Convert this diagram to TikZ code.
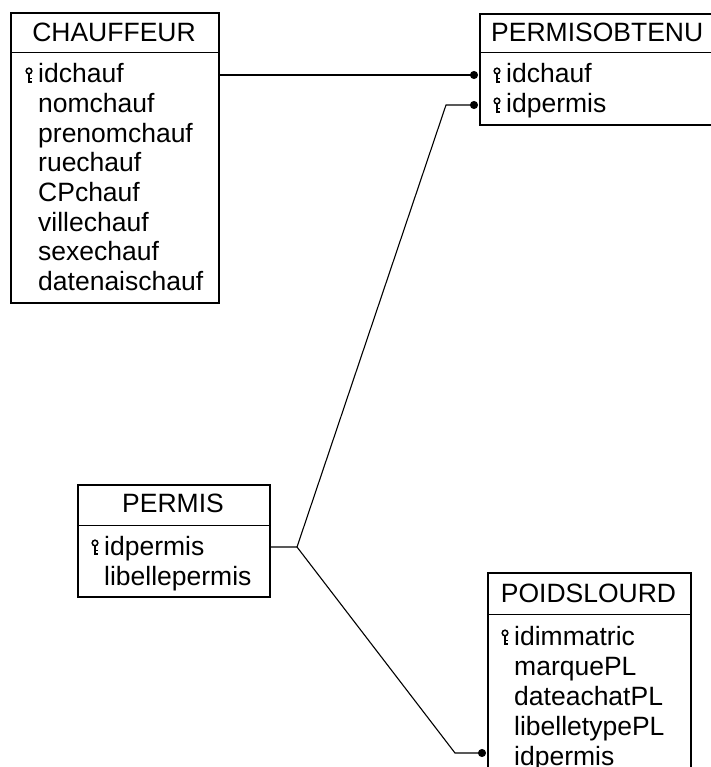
\documentclass[tikz,border=0pt]{standalone}
\usepackage{fontspec}
\setmainfont{Liberation Sans}
\usetikzlibrary{arrows.meta}
\tikzset{
  tbox/.style={draw=black, line width=1.8pt, inner sep=0pt, anchor=north west},
  sep/.style={draw=black, line width=1pt},
  ttl/.style={anchor=base, inner sep=0pt, font=\fontsize{26.5}{29}\selectfont},
  fld/.style={anchor=base west, inner sep=0pt, font=\fontsize{26.5}{29}\selectfont},
  conn/.style={draw=black, line width=1.1pt},
  dotend/.style={-{Circle[length=8pt,width=8pt]}},
  keyicon/.pic={
    \draw[line width=1.5pt] (0,-12) circle (2.8);
    \draw[line width=1.7pt] (0,-9.2) -- (0,-1.2) -- (3.2,-1.2);
    \draw[line width=1.4pt] (0,-4.6) -- (2.8,-4.6);
  }
}
\begin{document}
\begin{tikzpicture}[x=1pt,y=-1pt]
\useasboundingbox (0,0) rectangle (710,767);
\fill[white] (0,0) rectangle (710,767);

% CHAUFFEUR
\node[tbox, minimum width=208pt, minimum height=290pt] (chauffeur) at (10,12) {};
\draw[sep] (10,53) -- (218,53);
\node[ttl] (chT) at (114,42) {CHAUFFEUR};
\pic at (29,83) {keyicon};
\node[fld] (ch1) at (38,83) {idchauf};
\node[fld] (ch2) at (38,112.6) {nomchauf};
\node[fld] (ch3) at (38,142.2) {prenomchauf};
\node[fld] (ch4) at (38,171.8) {ruechauf};
\node[fld] (ch5) at (38,201.4) {CPchauf};
\node[fld] (ch6) at (38,231) {villechauf};
\node[fld] (ch7) at (38,260.6) {sexechauf};
\node[fld] (ch8) at (38,290.2) {datenaischauf};

% PERMISOBTENU
\node[tbox, minimum width=240pt, minimum height=111pt] (pob) at (479,13) {};
\draw[sep] (479,53) -- (719,53);
\node[ttl, anchor=base west] (pobT) at (491,42) {PERMISOBTENU};
\pic at (497,83) {keyicon};
\pic at (497,113) {keyicon};
\node[fld] (pob1) at (506,83) {idchauf};
\node[fld] (pob2) at (506,113) {idpermis};

% PERMIS
\node[tbox, minimum width=192pt, minimum height=112pt] (permis) at (77,484) {};
\draw[sep] (77,525) -- (269,525);
\node[ttl] (peT) at (173,512) {PERMIS};
\pic at (95,555) {keyicon};
\node[fld] (pe1) at (104,555) {idpermis};
\node[fld] (pe2) at (104,585) {libellepermis};

% POIDSLOURD
\node[tbox, minimum width=203pt, minimum height=210pt] (pl) at (487,572) {};
\draw[sep] (487,614) -- (690,614);
\node[ttl] (plT) at (588.5,602) {POIDSLOURD};
\pic at (505,645) {keyicon};
\node[fld] (pl1) at (514,645) {idimmatric};
\node[fld] (pl2) at (514,675) {marquePL};
\node[fld] (pl3) at (514,705) {dateachatPL};
\node[fld] (pl4) at (514,735) {libelletypePL};
\node[fld] (pl5) at (514,765) {idpermis};

% ports
\coordinate (pobA) at (478,75);
\coordinate (pobB) at (478,105);
\coordinate (bendB) at (446,105);
\coordinate (junc) at (297,547);
\coordinate (bendP) at (455,753);
\coordinate (plA) at (486,753);

% connectors
\draw[conn, dotend] (chauffeur.east |- pobA) -- (pobA);
\draw[conn, dotend] (permis.east |- junc) -- (junc) -- (bendB) -- (pobB);
\draw[conn, dotend] (junc) -- (bendP) -- (plA);
\end{tikzpicture}
\end{document}
